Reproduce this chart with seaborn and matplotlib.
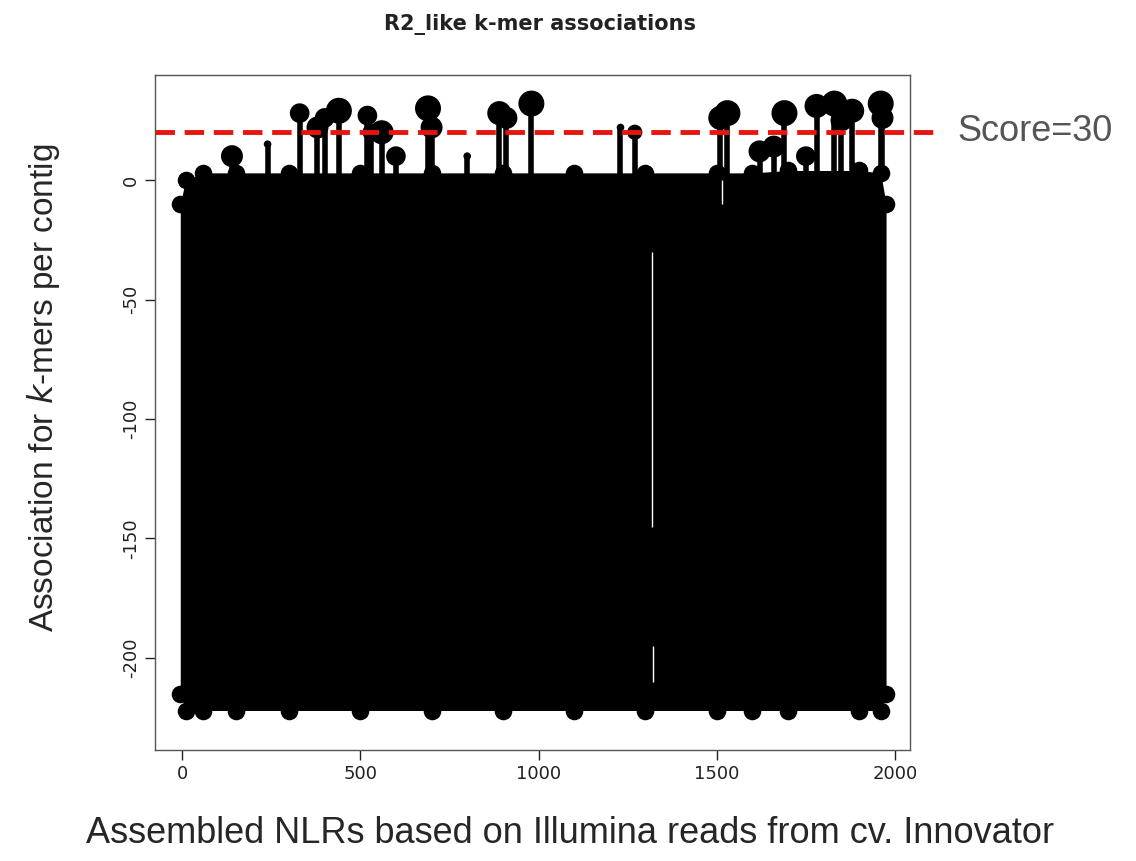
import matplotlib
matplotlib.use("Agg")
import matplotlib.pyplot as plt
import pandas as pd
import seaborn as sns

# -- Data ----------------------------------------------------------------------
# envelope of the dense black mass of k-mer associations
mass_x = [-5, 10, 60, 150, 300, 500, 700, 900, 1100, 1300, 1500, 1600, 1700, 1900, 1960, 1975]
mass_top = [-10, 0, 3, 3, 3, 3, 3, 3, 3, 3, 3, 3, 4, 4, 3, -10]
mass_bottom = [-215, -222, -222, -222, -222, -222, -222, -222, -222, -222, -222, -222, -222, -222, -222, -215]

# contigs with associations above the bulk
peak_x = [140, 240, 330, 380, 400, 440, 520, 530, 560, 600, 690, 700, 800, 890, 910, 980,
          1230, 1270, 1510, 1530, 1620, 1660, 1690, 1750, 1780, 1830, 1850, 1880, 1960, 1965]
peak_y = [10, 15, 28, 22, 26, 29, 27, 20, 20, 10, 30, 22, 10, 28, 26, 32,
          22, 20, 26, 28, 12, 14, 28, 10, 31, 32, 25, 29, 32, 26]
peak_size = [250, 30, 200, 250, 200, 350, 200, 150, 300, 200, 350, 250, 30, 300, 250, 350,
             30, 120, 300, 350, 250, 250, 350, 200, 300, 350, 250, 300, 350, 250]

THRESHOLD = 20

sns.set_theme(style="ticks")
plt.rcParams["font.family"] = ["DejaVu Sans"]

fig = plt.figure(figsize=(11.36, 8.61), dpi=100)
ax = fig.add_axes([0.1364, 0.129, 0.6646, 0.784])

ax.fill_between(mass_x, mass_bottom, mass_top, color="black", lw=0)
# rounded edges of the mass
edge = pd.DataFrame({"x": mass_x + mass_x, "y": mass_top + mass_bottom})
sns.scatterplot(data=edge, x="x", y="y", s=160, color="black", linewidth=0, ax=ax, legend=False)

peaks = pd.DataFrame({"x": peak_x, "y": peak_y, "s": peak_size})
ax.vlines(peaks["x"], 0, peaks["y"], color="black", lw=4)
sns.scatterplot(data=peaks, x="x", y="y", size="s", sizes=(30, 350), color="black",
                linewidth=0, ax=ax, legend=False)

# small white gaps in the mass
ax.vlines([1320, 1318], [-210, -145], [-195, -30], color="white", lw=1)
ax.vlines([1515], [-10], [0], color="white", lw=1)

ax.axhline(THRESHOLD, color="#e8140f", ls=(0, (4, 2)), lw=3.5, clip_on=False, xmax=1.04)
fig.text(0.843, 0.847, "Score=30", fontsize=26, color="#555555", va="center",
         family="Liberation Sans")

ax.set_xlim(-76, 2042)
ax.set_ylim(-238.5, 44)
ax.set_xticks([0, 500, 1000, 1500, 2000])
ax.set_yticks([0, -50, -100, -150, -200])
ax.set_yticklabels(["0", "-50", "-100", "-150", "-200"], rotation=90, va="center")
ax.tick_params(labelsize=13, colors="#222222", length=7, width=1)
for sp in ax.spines.values():
    sp.set_color("#555555")
    sp.set_linewidth(1)
ax.set_xlabel("")
ax.set_ylabel("")

fig.text(0.475, 0.972, "R2_like k-mer associations", ha="center", va="center",
         fontsize=15, fontweight="bold", color="#222222")
fig.text(0.502, 0.012, "Assembled NLRs based on Illumina reads from cv. Innovator",
         ha="center", va="bottom", fontsize=26, family="Liberation Sans")
fig.text(0.038, 0.55, "Association for $k$-mers per contig", rotation=90,
         ha="center", va="center", fontsize=24, family="Liberation Sans")

fig.savefig("out.png", dpi=100)
